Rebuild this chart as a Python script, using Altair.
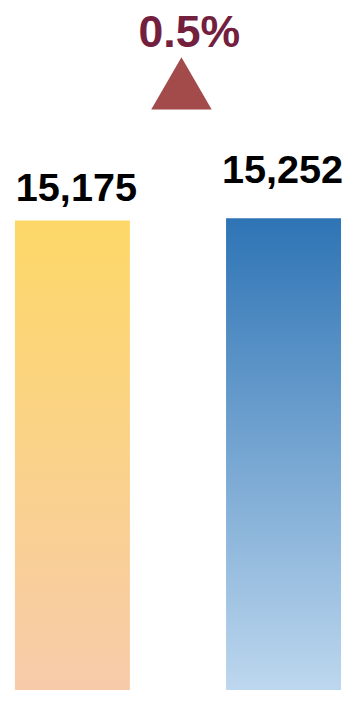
import altair as alt
import pandas as pd

categories = ["Prior", "Current"]
values = [15175, 15252]
labels = ["15,175", "15,252"]
change_label = ["0.5%"]

df = pd.DataFrame({"cat": categories, "value": values, "label": labels})

x_enc = alt.X("cat:N", sort=categories, axis=None,
              scale=alt.Scale(paddingInner=0.4554, paddingOuter=0.01643, align=1))
y_enc = alt.Y("value:Q", axis=None, scale=alt.Scale(domain=[0, 21885], nice=False, zero=True))

base = alt.Chart(df).encode(x=x_enc, y=y_enc)

grad_left = alt.Gradient(gradient="linear", x1=0, y1=0, x2=0, y2=1,
                         stops=[alt.GradientStop(color="#FDD868", offset=0),
                                alt.GradientStop(color="#F7CBAA", offset=1)])
grad_right = alt.Gradient(gradient="linear", x1=0, y1=0, x2=0, y2=1,
                          stops=[alt.GradientStop(color="#2E74B5", offset=0),
                                 alt.GradientStop(color="#BDD7EE", offset=1)])

bar_left = base.transform_filter(alt.datum.cat == categories[0]).mark_bar(color=grad_left)
bar_right = base.transform_filter(alt.datum.cat == categories[1]).mark_bar(color=grad_right)

txt_left = base.transform_filter(alt.datum.cat == categories[0]).mark_text(
    font="Liberation Sans", fontWeight="bold", fontSize=40, color="#000000",
    baseline="alphabetic", dy=-20, dx=4).encode(text="label:N")
txt_right = base.transform_filter(alt.datum.cat == categories[1]).mark_text(
    font="Liberation Sans", fontWeight="bold", fontSize=40, color="#000000",
    baseline="alphabetic", dy=-35, dx=-1).encode(text="label:N")

ann_df = pd.DataFrame({"t": change_label})
tri = alt.Chart(ann_df).mark_point(shape="triangle-up", filled=True, size=3721,
                                   color="#A34B4B", opacity=1).encode(
    x=alt.value(175), y=alt.value(71))
pct = alt.Chart(ann_df).mark_text(font="Liberation Sans", fontWeight="bold", fontSize=45,
                                  color="#72203E", baseline="alphabetic").encode(
    x=alt.value(183), y=alt.value(34), text="t:N")

chart = alt.layer(bar_left, bar_right, txt_left, txt_right, tri, pct).properties(
    width=336, height=683, padding=0
).configure_view(stroke=None)

chart.save("out.html", embed_options={"renderer": "svg", "actions": False})
